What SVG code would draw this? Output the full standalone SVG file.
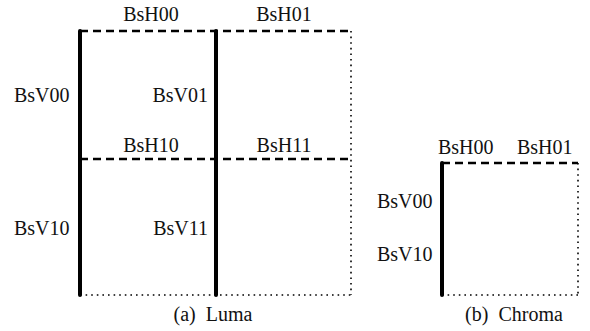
<svg xmlns="http://www.w3.org/2000/svg" width="590" height="331" viewBox="0 0 590 331">
<style>
  text { font-family: "Liberation Serif", "Times New Roman", serif; font-size: 20px; fill: #111; }
  .mid { text-anchor: middle; }
  .end { text-anchor: end; }
  .solid { stroke: #000; stroke-width: 4; fill: none; stroke-linecap: round; }
  .dash { stroke: #000; stroke-width: 2.5; fill: none; stroke-dasharray: 8 5; }
  .dot { stroke: #000; stroke-width: 1.6; fill: none; stroke-dasharray: 1.6 4; }
</style>
<rect width="590" height="331" fill="#fff"/>
<g id="edges">
  <!-- luma block boundaries -->
  <line class="dot" x1="351" y1="31" x2="351" y2="295"/>
  <line class="dot" x1="80" y1="295" x2="351" y2="295"/>
  <line class="dash" x1="80" y1="31" x2="351" y2="31"/>
  <line class="dash" x1="80" y1="159" x2="351" y2="159"/>
  <line class="solid" x1="80" y1="31" x2="80" y2="295"/>
  <line class="solid" x1="216" y1="31" x2="216" y2="295"/>
  <!-- chroma block boundaries -->
  <line class="dot" x1="578" y1="163" x2="578" y2="295"/>
  <line class="dot" x1="442" y1="295" x2="578" y2="295"/>
  <line class="dash" x1="442" y1="163" x2="578" y2="163"/>
  <line class="solid" x1="442" y1="163" x2="442" y2="295"/>
</g>
<g id="luma">
  <text class="mid" x="151" y="21">BsH00</text>
  <text class="mid" x="284" y="21">BsH01</text>
  <text x="14" y="102">BsV00</text>
  <text class="end" x="208" y="102">BsV01</text>
  <text class="mid" x="151" y="152">BsH10</text>
  <text class="mid" x="284" y="152">BsH11</text>
  <text x="14" y="235">BsV10</text>
  <text class="end" x="208" y="235">BsV11</text>
  <text class="mid" x="213" y="321" xml:space="preserve">(a)  Luma</text>
</g>
<g id="chroma">
  <text x="438" y="154">BsH00</text>
  <text x="517" y="154">BsH01</text>
  <text x="377" y="208">BsV00</text>
  <text x="377" y="261">BsV10</text>
  <text class="mid" x="514" y="321" xml:space="preserve">(b)  Chroma</text>
</g>
</svg>
